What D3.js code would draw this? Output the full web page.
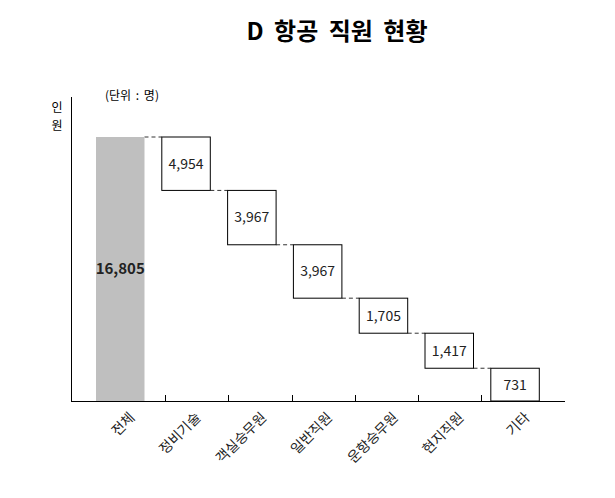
<!DOCTYPE html>
<html>
<head>
<meta charset="utf-8">
<script src="https://cdn.jsdelivr.net/npm/d3@7"></script>
<style>
  body { margin: 0; background: #fff; }
  text { font-family: "Noto Sans CJK KR", "Noto Sans", sans-serif; }
</style>
</head>
<body>
<div id="chart"></div>
<script>
// categories along the bottom
const categories = ["전체", "정비기술", "객실승무원", "일반직원", "운항승무원", "현지직원", "기타"]
// numbers printed on the bars (명)
const values = [16805, 4954, 3967, 3967, 1705, 1417, 731]
// the boxes in the reference are not to scale with their labels,
// so their drawn heights are read off the picture separately (same units)
const drawn = [16805, 3400, 3460, 3400, 2230, 2230, 2085]

const width = 615, height = 498

const svg = d3.select("#chart").append("svg")
    .attr("width", width)
    .attr("height", height)

// scales
const x = d3.scaleBand().domain(categories).range([96, 539.3]).paddingInner(0.263).paddingOuter(0)
const xTick = d3.scaleBand().domain(categories).range([102, 544.4])
const y = d3.scaleLinear().domain([0, 16805]).range([401, 137])

// waterfall: each step hangs from the bottom of the previous one
let steps = []
let level = drawn[0]
categories.forEach((c, i) => {
    if (i == 0) {
        steps.push({ cat: c, y0: 0, y1: drawn[0], label: values[i] })
    } else {
        steps.push({ cat: c, y0: level - drawn[i], y1: level, label: values[i] })
        level = level - drawn[i]
    }
})

// title
svg.append("text")
    .attr("x", 337).attr("y", 40)
    .attr("text-anchor", "middle")
    .attr("font-size", 24).attr("font-weight", "bold")
    .attr("word-spacing", 5)
    .text("D 항공 직원 현황")

// unit + y label
svg.append("text")
    .attr("x", 105).attr("y", 100)
    .attr("font-size", 12)
    .attr("word-spacing", 2)
    .text("(단위 : 명)")
svg.append("text").attr("x", 57).attr("y", 112).attr("text-anchor", "middle").attr("font-size", 12).text("인")
svg.append("text").attr("x", 57).attr("y", 130).attr("text-anchor", "middle").attr("font-size", 12).text("원")

// connectors
for (let i = 1; i < steps.length; i++) {
    svg.append("line")
        .attr("x1", x(categories[i - 1]) + x.bandwidth())
        .attr("x2", x(categories[i]))
        .attr("y1", y(steps[i].y1)).attr("y2", y(steps[i].y1))
        .attr("stroke", "#333").attr("stroke-width", 1)
        .attr("stroke-dasharray", "4,3")
}

// bars
svg.selectAll("rect.bar")
    .data(steps)
    .enter().append("rect")
    .attr("class", "bar")
    .attr("x", d => x(d.cat))
    .attr("y", d => y(d.y1))
    .attr("width", x.bandwidth())
    .attr("height", d => y(d.y0) - y(d.y1))
    .attr("fill", (d, i) => i == 0 ? "#bfbfbf" : "#fff")
    .attr("stroke", (d, i) => i == 0 ? "none" : "#000")
    .attr("stroke-width", 1)

// bar labels
svg.selectAll("text.val")
    .data(steps)
    .enter().append("text")
    .attr("class", "val")
    .attr("x", d => x(d.cat) + x.bandwidth() / 2)
    .attr("y", d => (y(d.y0) + y(d.y1)) / 2)
    .attr("dy", "0.35em")
    .attr("text-anchor", "middle")
    .attr("font-size", (d, i) => i == 0 ? 15 : 14)
    .attr("font-weight", (d, i) => i == 0 ? "bold" : "normal")
    .attr("fill", "#222")
    .text(d => d3.format(",")(d.label))

// axes
svg.append("line")
    .attr("x1", 71.5).attr("x2", 71.5).attr("y1", 97).attr("y2", 401)
    .attr("stroke", "#000")
svg.append("line")
    .attr("x1", 71).attr("x2", 565).attr("y1", 401.5).attr("y2", 401.5)
    .attr("stroke", "#000")

// ticks between categories, pointing up
categories.slice(1).forEach(c => {
    const tx = Math.round(xTick(c)) + 0.5
    svg.append("line")
        .attr("x1", tx).attr("x2", tx).attr("y1", 401).attr("y2", 395)
        .attr("stroke", "#000")
})

// rotated category labels
svg.selectAll("text.cat")
    .data(categories)
    .enter().append("text")
    .attr("class", "cat")
    .attr("transform", d => "translate(" + (x(d) + x.bandwidth() / 2 + 12) + ",415) rotate(-45)")
    .attr("text-anchor", "end")
    .attr("dy", "0.35em")
    .attr("font-size", 14)
    .attr("fill", "#222")
    .text(d => d)
</script>
</body>
</html>
